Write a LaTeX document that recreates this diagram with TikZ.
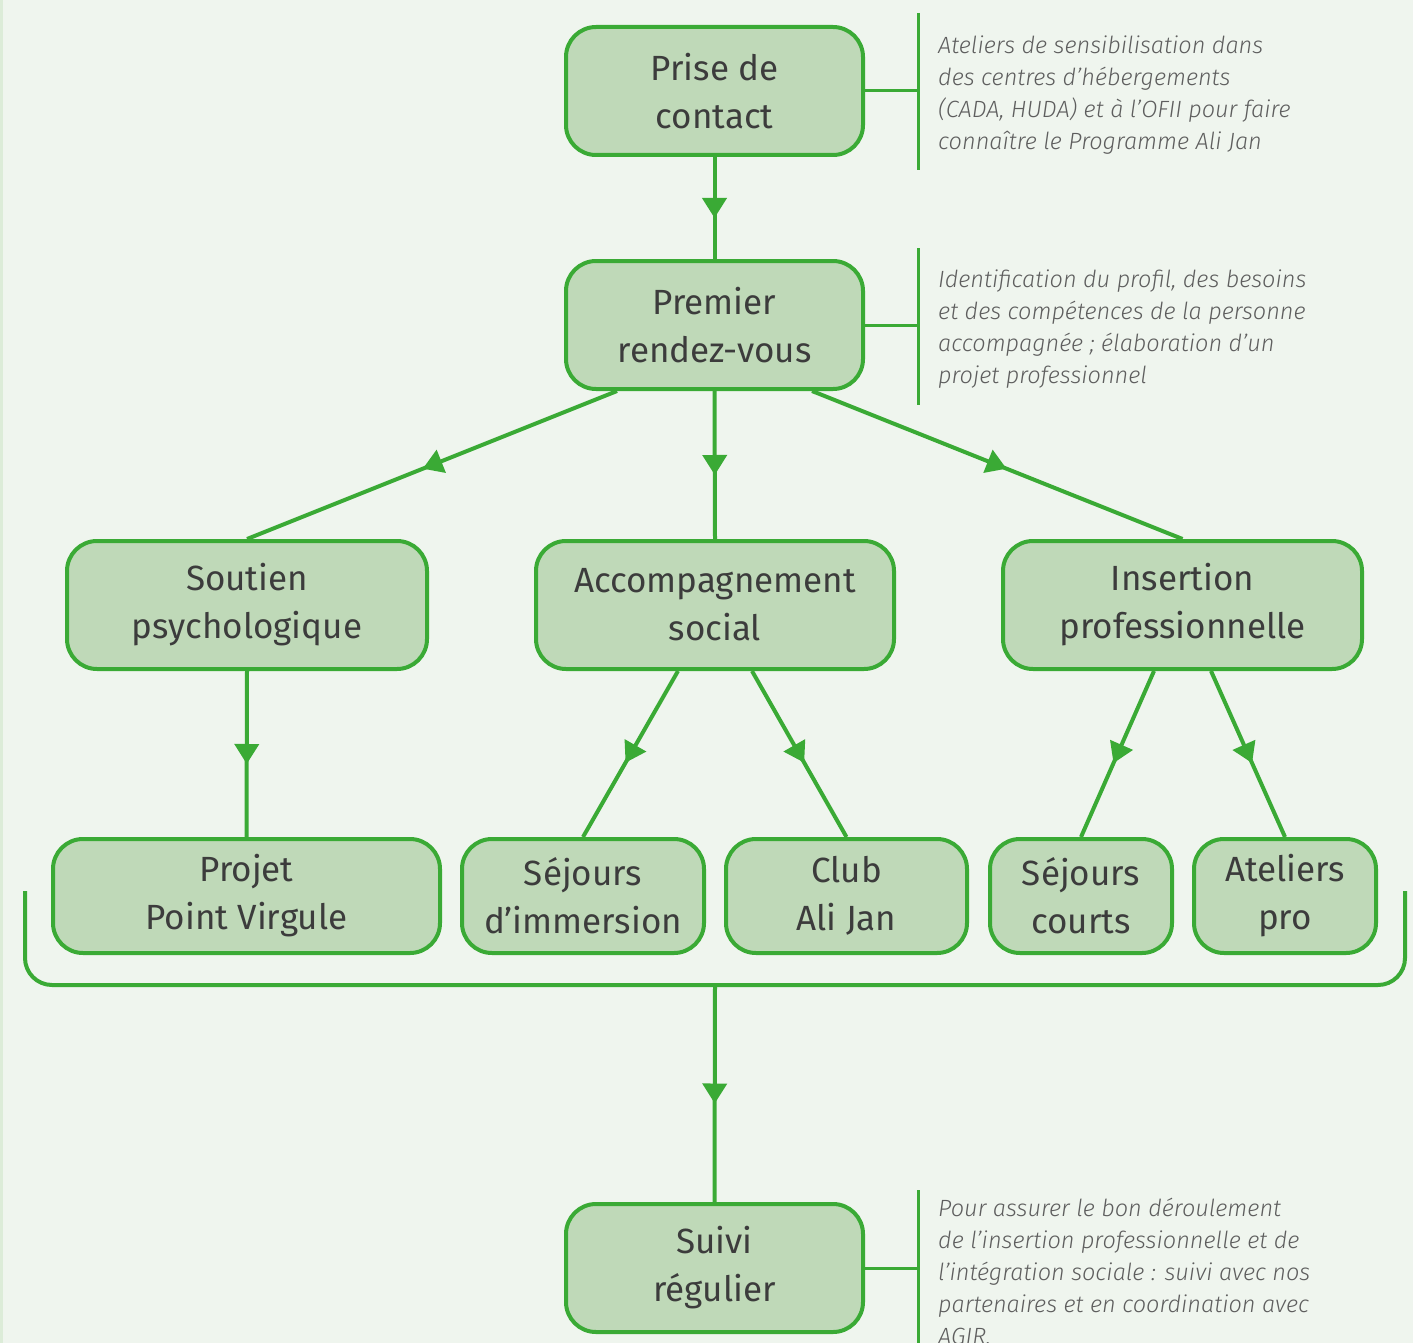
\documentclass[tikz,border=0pt]{standalone}
\usepackage{fontspec}
\setmainfont{Fira Sans}
\newfontfamily\annotfont{Fira Sans}[UprightFont={* Light}, ItalicFont={* Light Italic}]
\usetikzlibrary{arrows.meta,decorations.markings,calc}
\definecolor{bgcol}{HTML}{EFF5EE}
\definecolor{stripcol}{HTML}{DCECD8}
\definecolor{gline}{HTML}{3AAA35}
\definecolor{gfill}{HTML}{BFD9B8}
\definecolor{txtcol}{HTML}{3C3C3C}
\definecolor{anncol}{HTML}{5E5E5E}
\tikzset{
  box/.style={draw=gline, line width=4pt, fill=gfill, rounded corners=30pt,
    align=center, text=txtcol, font=\fontsize{35}{48}\selectfont, inner sep=0pt},
  bigbox/.style={box, minimum height=128pt},
  smallbox/.style={box, minimum height=114pt},
  flow/.style={draw=gline, line width=4pt,
    postaction={decorate, decoration={markings,
      mark=at position 0.5 with {\arrow[xshift=10pt]{Triangle[width=24pt,length=20pt]}}}}},
  annline/.style={draw=gline, line width=3pt},
  anntext/.style={anchor=west, align=left, text=anncol, inner sep=0pt,
    font=\annotfont\itshape\fontsize{23.5}{32}\selectfont},
}
\begin{document}
\begin{tikzpicture}[x=1pt,y=-1pt]
\useasboundingbox (0,0) rectangle (1413,1343);
\clip (0,0) rectangle (1413,1343);
\fill[bgcol] (0,0) rectangle (1413,1343);
\fill[stripcol] (0,0) rectangle (3,1343);

\node[bigbox, minimum width=297pt] (prise) at (714.5,91) {Prise de\\contact};
\node[bigbox, minimum width=297pt] (premier) at (714.5,325) {Premier\\rendez-vous};
\node[bigbox, minimum width=360pt] (soutien) at (247,605) {Soutien\\psychologique};
\node[bigbox, minimum width=358pt] (accomp) at (715,605) {Accompagnement\\social};
\node[bigbox, minimum width=359pt] (insert) at (1182.5,605) {Insertion\\professionnelle};
\node[smallbox, minimum width=387pt] (projet) at (246.5,896) {Projet\\Point Virgule};
\node[smallbox, minimum width=242pt] (immersion) at (583,896) {Séjours\\d’immersion};
\node[smallbox, minimum width=241pt] (club) at (846.5,896) {Club\\Ali Jan};
\node[smallbox, minimum width=182pt] (courts) at (1081,896) {Séjours\\courts};
\node[smallbox, minimum width=182pt] (ateliers) at (1285,896) {Ateliers\\pro};
\node[bigbox, minimum width=297pt] (suivi) at (714.5,1268) {Suivi\\régulier};

% bracket
\draw[gline, line width=4pt, rounded corners=27pt] (25,891) -- (25,985) -- (1405,985) -- (1405,891);
\coordinate (brk) at (715,985);

% flow arrows
\draw[flow] (prise.south) -- (premier.north);
\draw[flow] ($(premier.south)+(-97.5,0)$) -- (soutien.north);
\draw[flow] (premier.south) -- (accomp.north);
\draw[flow] ($(premier.south)+(97.5,0)$) -- (insert.north);
\draw[flow] (soutien.south) -- (projet.north);
\draw[flow] ($(accomp.south)+(-37,0)$) -- (immersion.north);
\draw[flow] ($(accomp.south)+(37,0)$) -- (club.north);
\draw[flow] ($(insert.south)+(-28.5,0)$) -- (courts.north);
\draw[flow] ($(insert.south)+(28.5,0)$) -- (ateliers.north);
\draw[flow] (brk) -- (suivi.north);

% annotations
\coordinate (a1) at (918,91);
\draw[annline] (prise.east) -- (a1);
\draw[annline] (918,13) -- (918,170);
\node[anntext] (t1) at (938,95) {Ateliers de sensibilisation dans\\des centres d’hébergements\\(CADA, HUDA) et à l’OFII pour faire\\connaître le Programme Ali Jan};

\coordinate (a2) at (918,325);
\draw[annline] (premier.east) -- (a2);
\draw[annline] (918,248) -- (918,405);
\node[anntext] (t2) at (938,329) {Identification du profil, des besoins\\et des compétences de la personne\\accompagnée ; élaboration d’un\\projet professionnel};

\coordinate (a3) at (918,1268);
\draw[annline] (suivi.east) -- (a3);
\draw[annline] (918,1190) -- (918,1350);
\node[anntext] (t3) at (938,1271) {Pour assurer le bon déroulement\\de l’insertion professionnelle et de\\l’intégration sociale : suivi avec nos\\partenaires et en coordination avec\\AGIR.};
\end{tikzpicture}
\end{document}
